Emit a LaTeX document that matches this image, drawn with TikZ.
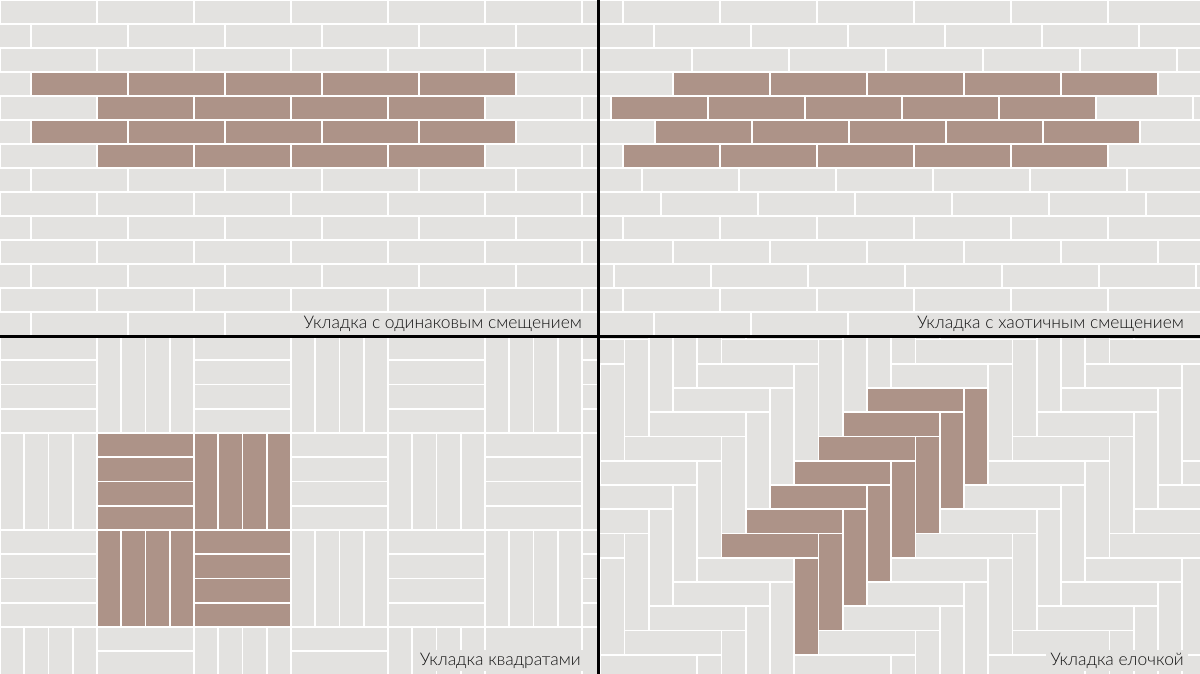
\documentclass[tikz,border=0pt]{standalone}
\usepackage{fontspec}
\newfontfamily\lblfont{Lato Light}
\definecolor{tilegrey}{RGB}{227,226,224}
\definecolor{tilebrown}{RGB}{173,147,136}
\definecolor{inkc}{RGB}{20,20,20}
\tikzset{
  lbl/.style={font=\lblfont\fontsize{17.5}{20}\selectfont, text=inkc, fill=tilegrey, inner xsep=4bp, inner ysep=3bp, anchor=base east},
  divider/.style={line width=3bp, black}
}
\begin{document}
\begin{tikzpicture}[x=1bp,y=-1bp]
\fill[white] (0,0) rectangle (1200,674);
\useasboundingbox (0,0) rectangle (1200,674);
% ---------- top left: equal offset ----------
\begin{scope}
\clip (0,0) rectangle (597,335);
\foreach \r in {0,...,13}{
  \ifodd\r \def\ph{31}\else\def\ph{0}\fi
  \foreach \k in {-1,...,6}{
    \pgfmathsetmacro\X{\ph+97*\k}
    \def\tc{tilegrey}
    \ifnum\r>2 \ifnum\r<7
      \ifodd\r \ifnum\k>-1 \ifnum\k<5 \def\tc{tilebrown}\fi\fi
      \else \ifnum\k>0 \ifnum\k<5 \def\tc{tilebrown}\fi\fi\fi
    \fi\fi
    \fill[\tc] (\X+0.8,24*\r+0.8) rectangle (\X+96.2,24*\r+23.2);
  }}
\end{scope}
% ---------- top right: random offset ----------
\begin{scope}
\clip (600,0) rectangle (1200,335);
\foreach \r/\ph in {0/23,1/54,2/92,3/73,4/11,5/55,6/23,7/42,8/61,9/23,10/73,11/14,12/23,13/54}{
  \foreach \k in {-1,...,6}{
    \pgfmathsetmacro\X{600+\ph+97*\k}
    \def\tc{tilegrey}
    \ifnum\r>2 \ifnum\r<7 \ifnum\k>-1 \ifnum\k<5 \def\tc{tilebrown}\fi\fi\fi\fi
    \fill[\tc] (\X+0.8,24*\r+0.8) rectangle (\X+96.2,24*\r+23.2);
  }}
\end{scope}
% ---------- bottom left: squares ----------
\begin{scope}
\clip (0,338) rectangle (597,674);
\foreach \i in {0,...,3}{
  \foreach \j in {0,...,6}{
    \pgfmathsetmacro\X{97*\j}
    \pgfmathsetmacro\Y{336+97*\i}
    \pgfmathtruncatemacro\pty{mod(\i+\j,2)}
    \def\tc{tilegrey}
    \ifnum\i>0 \ifnum\i<3 \ifnum\j>0 \ifnum\j<3 \def\tc{tilebrown}\fi\fi\fi\fi
    \foreach \s in {0,...,3}{
      \ifnum\pty=0
        \fill[\tc] (\X+0.8,\Y+24.25*\s+0.8) rectangle (\X+96.2,\Y+24.25*\s+23.45);
      \else
        \fill[\tc] (\X+24.25*\s+0.8,\Y+0.8) rectangle (\X+24.25*\s+23.45,\Y+96.2);
      \fi
    }
  }}
\end{scope}
% ---------- bottom right: herringbone ----------
\begin{scope}
\clip (600,338) rectangle (1200,674);
\foreach \n in {-4,...,4}{
  \foreach \m in {-12,...,15}{
    \pgfmathsetmacro\X{867-24.25*\m+97*\n}
    \pgfmathsetmacro\Y{388+24.25*\m+97*\n}
    \def\hc{tilegrey}\def\vc{tilegrey}
    \ifnum\n=0 \ifnum\m>-1
      \ifnum\m<7 \def\hc{tilebrown}\fi
      \ifnum\m<8 \def\vc{tilebrown}\fi
    \fi\fi
    \fill[\hc] (\X+0.8,\Y+0.8) rectangle (\X+96.2,\Y+23.45);
    \fill[\vc] (\X+97.8,\Y+0.8) rectangle (\X+120.45,\Y+96.2);
  }}
\end{scope}
% ---------- dividers ----------
\coordinate (vt) at (598.5,0);
\coordinate (vb) at (598.5,674);
\coordinate (hl) at (0,336.5);
\coordinate (hr) at (1200,336.5);
\draw[divider] (vt) -- (vb);
\draw[divider] (hl) -- (hr);
% ---------- labels ----------
\node[lbl] (l1) at (586,328.5) {Укладка с одинаковым смещением};
\node[lbl] (l2) at (1188,328.5) {Укладка с хаотичным смещением};
\node[lbl] (l3) at (585,665) {Укладка квадратами};
\node[lbl] (l4) at (1188,665) {Укладка елочкой};
\end{tikzpicture}
\end{document}
